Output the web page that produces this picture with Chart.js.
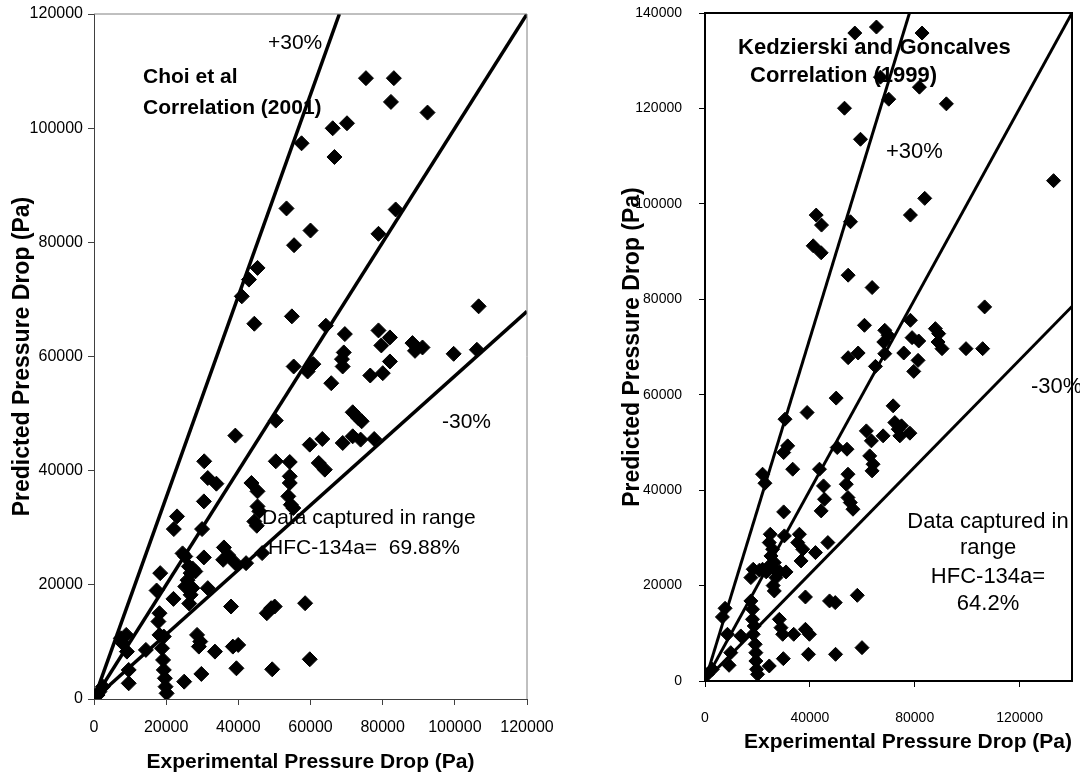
<!DOCTYPE html>
<html>
<head>
<meta charset="utf-8">
<script src="https://cdn.jsdelivr.net/npm/chart.js@4.4.0/dist/chart.umd.min.js"></script>
<style>
  html, body { margin: 0; padding: 0; background: #fff; }
  #wrap { position: relative; width: 1080px; height: 776px; overflow: hidden; }
  .box { position: absolute; top: 0; }
  #leftBox { left: 0; }
  #rightBox { left: 560px; }
</style>
</head>
<body>
<div id="wrap">
  <div class="box" id="leftBox"><canvas id="choiChart" width="560" height="776"></canvas></div>
  <div class="box" id="rightBox"><canvas id="kgChart" width="520" height="776"></canvas></div>
</div>
<script>
// Choi et al (2001) - experimental vs predicted pressure drop (Pa)
const choiExp = [
  75370, 83100, 82300, 92430, 66150, 70110, 57520, 66640, 53350, 60000,
  55440, 83600, 78840, 45320, 42940, 40960, 44430, 54840, 106600, 64260,
  69520, 78840, 82010, 79630, 88260, 88960, 91040, 99670, 106110, 69220,
  68720, 68920, 55340, 60790, 59200, 82010, 76560, 80030, 65750, 50380,
  71700, 74180, 73190, 59800, 63270, 68930, 71700, 73890, 77650, 62280,
  63970, 39170, 30540, 31530, 33920, 30450, 50380, 54250, 54250, 54250,
  53850, 54540, 55240, 43630, 45320, 45320, 45820, 44430, 45120, 23010,
  22120, 29950, 30450, 36000, 35800, 39170, 42150, 46600, 25290, 26280,
  26780, 28070, 18350, 25290, 27270, 26780, 31530, 22020, 17350, 37980,
  47900, 49090, 50080, 58510, 18150, 17850, 18150, 19340, 18850, 28560,
  29450, 29060, 33520, 38480, 39960, 29750, 39470, 49390, 59800, 24990,
  19140, 19340, 19640, 19830, 20130, 14380, 7440, 8930, 7930, 9120,
  9620, 9620, 2480, 1490, 990, 25930, 26850, 26390, 24540, 27320, 37200
];
const choiPred = [
  108760, 108760, 104600, 102730, 99980, 100860, 97350, 94950, 85940, 82070,
  79500, 85760, 81490, 75520, 73470, 70540, 65740, 67030, 68790, 65390,
  63930, 64570, 63340, 61940, 62350, 60990, 61580, 60470, 61180, 60710,
  59540, 58250, 58250, 58660, 57370, 59130, 56670, 57080, 55320, 48770,
  50230, 48650, 49240, 44560, 45550, 44850, 46020, 45440, 45550, 41350,
  40180, 46140, 41640, 38710, 37720, 34620, 41640, 41520, 39010, 37840,
  35500, 34040, 33450, 37840, 36380, 33740, 32870, 31110, 30350, 31990,
  29770, 29770, 24800, 26550, 24390, 23800, 23800, 25560, 24970, 23220,
  22050, 22340, 22050, 19710, 19420, 18250, 19420, 17540, 19010, 16200,
  15030, 15910, 16200, 16780, 15030, 13570, 11230, 10940, 8890, 11230,
  10060, 9180, 8300, 9180, 9470, 4390, 5380, 5200, 6960, 3040,
  6840, 5090, 3630, 2160, 990, 8600, 10640, 11230, 9770, 8300,
  5090, 2750, 2160, 1290, 700, 20820, 19650, 16720, 25510, 22870, 25200
];

// Kedzierski and Goncalves (1999)
const kgExp = [
  57150, 65400, 82800, 66930, 81790, 70100, 92080, 53210, 59310, 132970,
  83820, 78360, 42420, 44450, 55500, 41280, 44320, 54610, 63750, 106680,
  60830, 78360, 68580, 69850, 68200, 79000, 81530, 87880, 89150, 88900,
  90420, 99570, 105920, 54610, 58420, 68580, 75820, 81280, 79630, 65020,
  50040, 30520, 38950, 31540, 30010, 33460, 21960, 22860, 30010, 43670,
  45210, 45590, 44320, 50440, 54160, 54540, 53900, 54540, 55430, 56450,
  61550, 63470, 62830, 64110, 63730, 67940, 71770, 72410, 73690, 74330,
  78160, 74970, 24900, 24520, 25800, 25160, 26430, 24520, 27070, 27070,
  26430, 30270, 30900, 36010, 35370, 37290, 36650, 42140, 46870, 18390,
  17500, 21960, 7660, 6640, 8560, 9830, 9190, 2810, 890, 13660,
  17500, 18130, 18130, 18770, 18390, 19150, 19410, 19410, 19670, 20050,
  24520, 28350, 28990, 29630, 33840, 29880, 38310, 47510, 49680, 58100,
  38310, 39840, 39460, 49800, 59890, 28460, 20770, 23330, 26000
];
const kgPred = [
  135800, 137060, 135800, 126560, 124460, 121940, 120960, 120050, 113540, 104860,
  101150, 97650, 97650, 95550, 96250, 91210, 89740, 85050, 82460, 78400,
  74550, 75600, 73500, 72450, 71050, 71960, 71260, 73850, 72800, 71050,
  69650, 69650, 69650, 67760, 68740, 68600, 68740, 67200, 64890, 65940,
  59290, 54870, 56270, 49280, 47880, 44390, 43340, 41450, 35440, 44390,
  40890, 38100, 35650, 48930, 48580, 43340, 41240, 38440, 37400, 36000,
  52420, 50330, 47180, 45430, 44040, 51380, 57670, 54170, 52770, 51380,
  51940, 53470, 30760, 29010, 27610, 26210, 24810, 24120, 23070, 21670,
  18870, 30410, 22860, 30760, 29010, 27610, 25160, 26910, 29010, 23420,
  21670, 23420, 15240, 13420, 9790, 5940, 3290, 2450, 1400, 9440,
  16780, 15030, 12930, 11530, 9790, 7690, 5940, 4190, 2450, 1400,
  3150, 12930, 11180, 9790, 9790, 4680, 17610, 16780, 16430, 17960,
  10830, 9790, 5590, 5590, 6990, 22880, 23230, 22880, 20000
];

// reference lines from the origin: +30%, parity, -30%
const choiLineEndX = [68000, 120000, 120000];
const choiLineEndY = [120000, 120000, 67900];
const kgLineEndX = [78000, 140000, 140000];
const kgLineEndY = [140000, 140000, 78500];

const choiTicks = [0, 20000, 40000, 60000, 80000, 100000, 120000];
const kgXTicks = [0, 40000, 80000, 120000];
const kgYTicks = [0, 20000, 40000, 60000, 80000, 100000, 120000, 140000];

Chart.defaults.font.family = "'Liberation Sans', Arial, sans-serif";
Chart.defaults.color = '#000';

const FONT = "'Liberation Sans', Arial, sans-serif";

// text boxes (under the markers) and the top/right frame of the plot
const notesPlugin = {
  id: 'notes',
  beforeDatasetsDraw(chart, args, opts) {
    const { ctx, scales } = chart;
    ctx.save();
    ctx.fillStyle = '#000';
    ctx.textBaseline = 'middle';
    opts.items.forEach(n => {
      ctx.font = n.font;
      ctx.textAlign = n.align || 'left';
      ctx.fillText(n.text, scales.x.getPixelForValue(n.x), scales.y.getPixelForValue(n.y));
    });
    ctx.restore();
  },
  afterDraw(chart, args, opts) {
    const { ctx, chartArea: a } = chart;
    ctx.save();
    ctx.strokeStyle = opts.frameColor;
    ctx.lineWidth = opts.frameWidth;
    ctx.beginPath();
    ctx.moveTo(a.left, a.top);
    ctx.lineTo(a.right, a.top);
    ctx.lineTo(a.right, a.bottom);
    ctx.stroke();
    ctx.restore();
  }
};

function pointSet(xs, ys, r) {
  return {
    data: xs.map((x, i) => ({ x: x, y: ys[i] })),
    pointStyle: 'rectRot',
    pointRadius: r,
    backgroundColor: '#000',
    borderColor: '#000',
    borderWidth: 1,
    showLine: false
  };
}

function lineSets(endX, endY, w) {
  return endX.map((x, i) => ({
    data: [{ x: 0, y: 0 }, { x: x, y: endY[i] }],
    showLine: true,
    borderColor: '#000',
    borderWidth: w,
    pointRadius: 0
  }));
}

const tickLabel = v => String(v);

// fixed axis box sizes so the plot area lands where the original one is
function fixHeight(h) {
  return s => { s.height = h; s.paddingLeft = 0; s.paddingRight = 0; };
}
function fixWidth(w) {
  return s => { s.width = w; s.paddingTop = 0; s.paddingBottom = 0; };
}

// left chart
new Chart(document.getElementById('choiChart'), {
  type: 'scatter',
  data: {
    datasets: [pointSet(choiExp, choiPred, 7.5)].concat(lineSets(choiLineEndX, choiLineEndY, 3.5))
  },
  options: {
    responsive: false,
    animation: false,
    layout: { padding: { top: 14, right: 33, left: 0, bottom: 0 } },
    plugins: {
      legend: { display: false },
      tooltip: { enabled: false },
      notes: {
        frameColor: '#808080',
        frameWidth: 1,
        items: [
          { text: '+30%', x: 48220, y: 114920, font: '21px ' + FONT },
          { text: 'Choi et al', x: 13580, y: 108960, font: 'bold 21px ' + FONT },
          { text: 'Correlation (2001)', x: 13580, y: 103530, font: 'bold 21px ' + FONT },
          { text: '-30%', x: 96440, y: 48530, font: '21px ' + FONT },
          { text: 'Data captured in range', x: 46560, y: 31710, font: '21px ' + FONT },
          { text: 'HFC-134a=  69.88%', x: 48220, y: 26450, font: '21px ' + FONT }
        ]
      }
    },
    scales: {
      x: {
        type: 'linear', min: 0, max: 120000,
        afterBuildTicks: s => { s.ticks = choiTicks.map(v => ({ value: v })); },
        afterFit: fixHeight(77),
        grid: { drawOnChartArea: false, tickLength: 6, color: '#404040' },
        border: { color: '#404040', width: 1 },
        ticks: { padding: 13, font: { size: 16 }, maxRotation: 0, autoSkip: false, callback: tickLabel },
        title: {
          display: true, text: 'Experimental Pressure Drop (Pa)',
          font: { size: 21, weight: 'bold' }, padding: { top: 0, bottom: 1 }
        }
      },
      y: {
        type: 'linear', min: 0, max: 120000,
        afterBuildTicks: s => { s.ticks = choiTicks.map(v => ({ value: v })); },
        afterFit: fixWidth(94),
        grid: { drawOnChartArea: false, tickLength: 6, color: '#404040' },
        border: { color: '#404040', width: 1 },
        ticks: { padding: 5, font: { size: 16 }, autoSkip: false, callback: tickLabel },
        title: {
          display: true, text: 'Predicted Pressure Drop (Pa)',
          font: { size: 23, weight: 'bold' }, padding: { top: 9, bottom: 0 }
        }
      }
    }
  },
  plugins: [notesPlugin]
});

// right chart
new Chart(document.getElementById('kgChart'), {
  type: 'scatter',
  data: {
    datasets: [pointSet(kgExp, kgPred, 7)].concat(lineSets(kgLineEndX, kgLineEndY, 3))
  },
  options: {
    responsive: false,
    animation: false,
    layout: { padding: { top: 13, right: 8, left: 0, bottom: 0 } },
    plugins: {
      legend: { display: false },
      tooltip: { enabled: false },
      notes: {
        frameColor: '#000',
        frameWidth: 2,
        items: [
          { text: 'Kedzierski and Goncalves', x: 12590, y: 132670, font: 'bold 22px ' + FONT },
          { text: 'Correlation (1999)', x: 17170, y: 126800, font: 'bold 22px ' + FONT },
          { text: '+30%', x: 69050, y: 110870, font: '22px ' + FONT },
          { text: '-30%', x: 124360, y: 61620, font: '22px ' + FONT },
          { text: 'Data captured in', x: 107960, y: 33320, font: '22px ' + FONT, align: 'center' },
          { text: 'range', x: 107960, y: 27870, font: '22px ' + FONT, align: 'center' },
          { text: 'HFC-134a=', x: 107960, y: 21800, font: '22px ' + FONT, align: 'center' },
          { text: '64.2%', x: 107960, y: 16140, font: '22px ' + FONT, align: 'center' }
        ]
      }
    },
    scales: {
      x: {
        type: 'linear', min: 0, max: 140000,
        afterBuildTicks: s => { s.ticks = kgXTicks.map(v => ({ value: v })); },
        afterFit: fixHeight(95),
        grid: { drawOnChartArea: false, tickLength: 6, color: '#000', lineWidth: 1 },
        border: { color: '#000', width: 2 },
        ticks: { padding: 23, font: { size: 14 }, maxRotation: 0, autoSkip: false, callback: tickLabel },
        title: {
          display: true, text: 'Experimental Pressure Drop (Pa)', align: 'end',
          font: { size: 21, weight: 'bold' }, padding: { top: 0, bottom: 21 }
        }
      },
      y: {
        type: 'linear', min: 0, max: 140000,
        afterBuildTicks: s => { s.ticks = kgYTicks.map(v => ({ value: v })); },
        afterFit: fixWidth(145),
        grid: { drawOnChartArea: false, tickLength: 6, color: '#000', lineWidth: 1 },
        border: { color: '#000', width: 2 },
        ticks: { padding: 17, font: { size: 14 }, autoSkip: false, callback: tickLabel },
        title: {
          display: true, text: 'Predicted Pressure Drop (Pa)',
          font: { size: 23, weight: 'bold' }, padding: { top: 59, bottom: 0 }
        }
      }
    }
  },
  plugins: [notesPlugin]
});
</script>
</body>
</html>
